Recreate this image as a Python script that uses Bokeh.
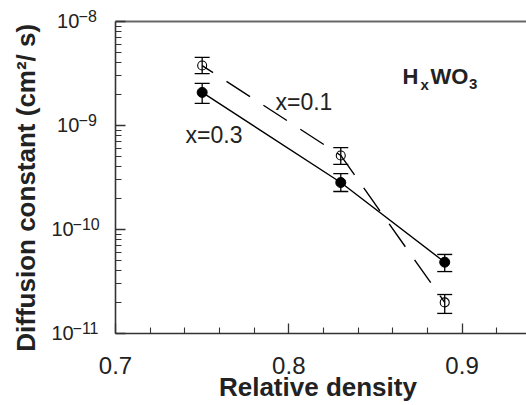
import math
from bokeh.plotting import figure
from bokeh.models import (ColumnDataSource, Whisker, TeeHead, FixedTicker, Label,
                          LinearAxis, Range1d)
from bokeh.embed import file_html
from bokeh.resources import INLINE

# ---- data ----
density = [0.75, 0.83, 0.89]
d_x03 = [2.08e-9, 2.83e-10, 4.85e-11]
d_x03_hi = [2.54e-9, 3.45e-10, 5.75e-11]
d_x03_lo = [1.63e-9, 2.32e-10, 3.94e-11]
d_x01 = [3.77e-9, 5.15e-10, 1.99e-11]
d_x01_hi = [4.51e-9, 6.14e-10, 2.37e-11]
d_x01_lo = [3.16e-9, 4.22e-10, 1.56e-11]

x_ticks = [0.7, 0.8, 0.9]
x_tick_labels = ["0.7", "0.8", "0.9"]
y_ticks = [1e-11, 1e-10, 1e-9, 1e-8]
y_tick_exponents = ["\u221211", "\u221210", "\u22129", "\u22128"]

X0, X1 = 0.7, 0.9372          # drawn x-axis extent
Y0, Y1 = 1e-11, 1e-8          # drawn y-axis extent
FONT = "Liberation Sans"
AX = "#333333"
TXT = "#222222"
NB = "\u00a0"

# the frame fills the whole canvas; the axes are pinned at the data edges
p = figure(width=526, height=405, output_backend="svg", toolbar_location=None,
           y_axis_type="log", x_range=Range1d(0.6336, X1),
           y_range=Range1d(2.031e-12, 1.5916e-8),
           min_border_left=0, min_border_right=0, min_border_top=0, min_border_bottom=0)
p.outline_line_color = None
p.xgrid.visible = False
p.ygrid.visible = False
p.background_fill_color = "white"

s03 = ColumnDataSource(dict(x=density, y=d_x03, hi=d_x03_hi, lo=d_x03_lo))
s01 = ColumnDataSource(dict(x=density, y=d_x01, hi=d_x01_hi, lo=d_x01_lo))

p.line("x", "y", source=s03, line_color="black", line_width=1.4)
p.line("x", "y", source=s01, line_color="black", line_width=1.4,
       line_dash="28 16", line_dash_offset=15)

for src in (s03, s01):
    w = Whisker(source=src, base="x", upper="hi", lower="lo", line_color="black",
                line_width=1.3,
                upper_head=TeeHead(size=15, line_color="black", line_width=1.3),
                lower_head=TeeHead(size=15, line_color="black", line_width=1.3))
    p.add_layout(w)

p.scatter("x", "y", source=s03, size=10, fill_color="black", line_color="black")
p.scatter("x", "y", source=s01, size=9, fill_color=None, line_color="black", line_width=1.1)

# axes
xa = p.xaxis[0]
xa.fixed_location = Y0
xa.bounds = (X0, X1)
xa.ticker = FixedTicker(ticks=x_ticks, minor_ticks=[0.72, 0.74, 0.76, 0.78, 0.82, 0.84,
                                                    0.86, 0.88, 0.92])
xa.major_label_overrides = {t: l for t, l in zip(x_ticks, x_tick_labels)}
ya = p.yaxis[0]
ya.fixed_location = X0
ya.bounds = (Y0, Y1)
minors = [m * 10.0 ** e for e in (-11, -10, -9) for m in range(2, 10)]
ya.ticker = FixedTicker(ticks=y_ticks, minor_ticks=minors)
# mantissa "10" as the tick label, padded so that the exponent fits to its right
ya.major_label_overrides = {t: "10" + NB * (5 if len(e) > 2 else 4)
                            for t, e in zip(y_ticks, y_tick_exponents)}

for ax in (xa, ya):
    ax.axis_line_color = AX
    ax.axis_line_width = 1.6
    ax.major_tick_line_color = AX
    ax.minor_tick_line_color = AX
    ax.major_tick_line_width = 1.3
    ax.minor_tick_line_width = 1.1
    ax.major_tick_in = 10
    ax.major_tick_out = 0
    ax.minor_tick_in = 6
    ax.minor_tick_out = 0
    ax.major_label_text_font = FONT
    ax.major_label_text_color = TXT

xa.major_label_text_font_size = "24px"
xa.major_label_standoff = 24
ya.major_label_text_font_size = "20px"
ya.major_label_standoff = 14

top = LinearAxis(ticker=FixedTicker(ticks=[]), axis_line_color="#666666", axis_line_width=2,
                 major_tick_line_color=None, minor_tick_line_color=None,
                 major_label_text_color=None, bounds=(X0, X1), fixed_location=Y1)
p.add_layout(top, "above")


def lab(x, y, t, px, bold=False, align="left", angle=0.0, dx=0):
    # small screen-space correction so that the text's baseline lands on (x, y)
    shift = round(0.29 * px)
    vertical = abs(angle) > 0.1
    p.add_layout(Label(x=x, y=y, text=t, text_font=FONT, text_font_size=f"{px}px",
                       text_font_style="bold" if bold else "normal", text_color=TXT,
                       text_align=align, text_baseline="alphabetic", angle=angle,
                       x_offset=dx - (shift if vertical else 0),
                       y_offset=0 if vertical else shift))


# exponents of the y tick labels
for t, e in zip(y_ticks, y_tick_exponents):
    lab(X0, t, e, 16, dx=-43 if len(e) > 2 else -37)

# axis titles
lab(0.8189, 2.535e-12, "Relative  density", 26, True, "center")
lab(0.6527, 2.956e-10, "Diffusion  constant  (cm\u00b2/ s)", 26, True, "center", math.pi / 2)

# annotations
lab(0.7923, 1.45e-9, "x=0.1", 23)
lab(0.7404, 6.87e-10, "x=0.3", 23)
lab(0.8656, 2.59e-9, "H", 22, True)
lab(0.8760, 2.27e-9, "x", 15, True)
lab(0.8818, 2.59e-9, "WO", 22, True)
lab(0.9040, 2.27e-9, "3", 15, True)

open("out.html", "w").write(file_html(p, INLINE))
